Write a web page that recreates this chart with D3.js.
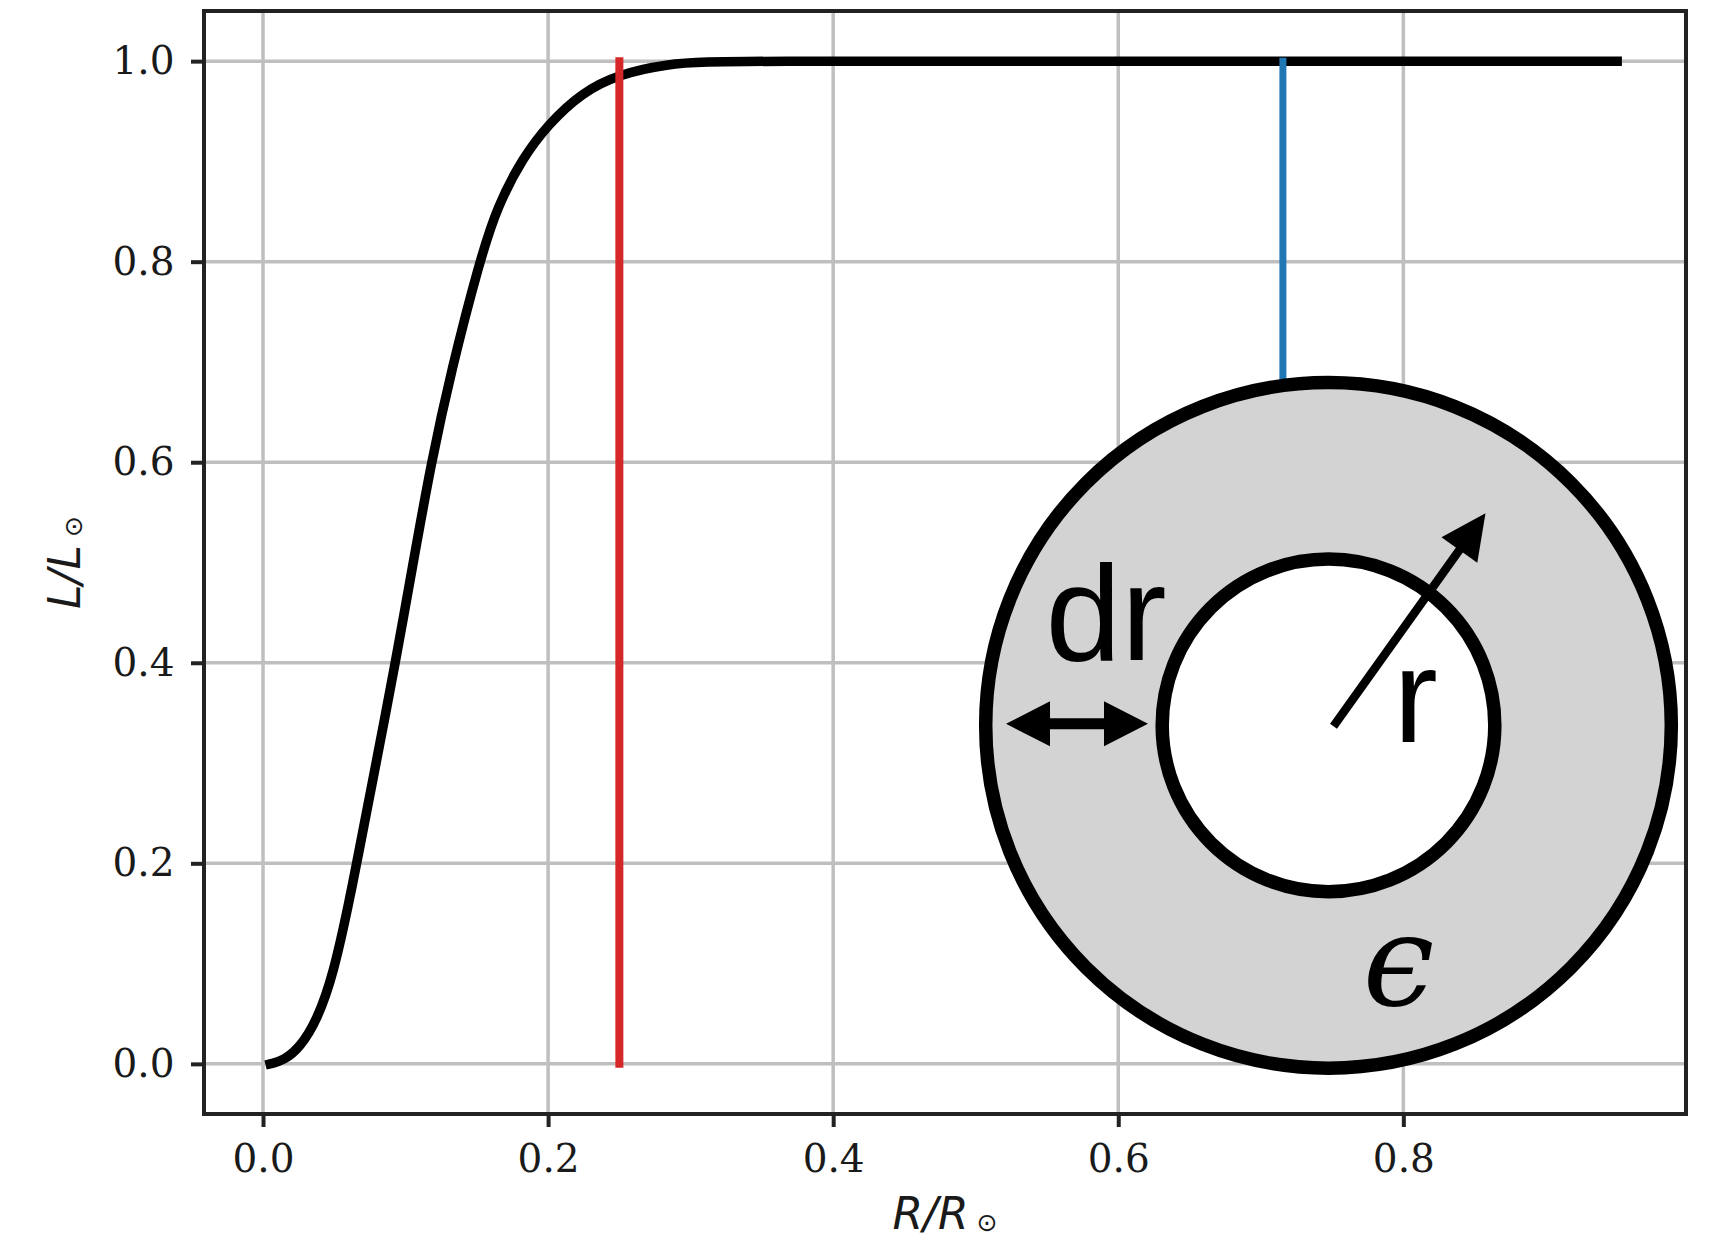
<!DOCTYPE html>
<html>
<head>
<meta charset="utf-8">
<script src="https://cdn.jsdelivr.net/npm/d3@7"></script>
<style>
  html, body { margin: 0; padding: 0; background: #fff; }
  .axis text { font-family: "DejaVu Serif", serif; font-size: 39px; fill: #1a1a1a; }
  .axis path.domain { display: none; }
  .axis line { stroke: #222; stroke-width: 4; }
  .grid line { stroke: #bfbfbf; stroke-width: 3.5; }
  .label { font-family: "DejaVu Sans", sans-serif; font-size: 44px; fill: #1a1a1a; }
</style>
</head>
<body>
<div id="chart"></div>
<script>
// luminosity profile (R/Rsun, L/Lsun)
const radius = [0.005, 0.0144, 0.026, 0.0377, 0.0494, 0.061, 0.0657, 0.0785, 0.0929, 0.1045,
                0.118, 0.132, 0.1518, 0.1646, 0.182, 0.200, 0.224, 0.2496, 0.2845, 0.31,
                0.35, 0.5, 0.7, 0.95];
const luminosity = [0.0, 0.0033, 0.0165, 0.043, 0.089, 0.166, 0.20, 0.294, 0.40, 0.493,
                    0.60, 0.691, 0.80, 0.856, 0.903, 0.937, 0.969, 0.987, 0.9974, 0.9992,
                    1.0, 1.0, 1.0, 1.0];

// vertical markers
const coreEdge = 0.25;
const convectionBase = 0.7155;

const xTicks = [0.0, 0.2, 0.4, 0.6, 0.8];
const yTicks = [0.0, 0.2, 0.4, 0.6, 0.8, 1.0];
const xDomain = [-0.0414, 0.9983];
const yDomain = [-0.05, 1.05];

// shell sketch, centre given in data units
const shellCenter = [0.7475, 0.3376];

const margin = ({top: 11, right: 25, bottom: 126, left: 204});
const width = 1711 - margin.left - margin.right;
const height = 1240 - margin.top - margin.bottom;

const svg = d3.select('#chart')
    .append('svg')
    .attr('width', 1711)
    .attr('height', 1240)
    .append('g')
    .attr('transform', 'translate(' + margin.left + ',' + margin.top + ')');

const xScale = d3.scaleLinear().domain(xDomain).range([0, width]);
const yScale = d3.scaleLinear().domain(yDomain).range([height, 0]);

// grid
svg.append('g')
    .attr('class', 'grid')
    .selectAll('line')
    .data(xTicks)
    .join('line')
    .attr('x1', d => xScale(d)).attr('x2', d => xScale(d))
    .attr('y1', 0).attr('y2', height);

svg.append('g')
    .attr('class', 'grid')
    .selectAll('line')
    .data(yTicks)
    .join('line')
    .attr('y1', d => yScale(d)).attr('y2', d => yScale(d))
    .attr('x1', 0).attr('x2', width);

// profile
const data = radius.map((r, i) => ({r: r, l: luminosity[i]}));

const line = d3.line()
    .x(d => xScale(d.r))
    .y(d => yScale(d.l))
    .curve(d3.curveBasis);

svg.append('path')
    .datum(data)
    .attr('d', line)
    .attr('fill', 'none')
    .attr('stroke', '#000')
    .attr('stroke-width', 9.5)
    .attr('stroke-linecap', 'square');

svg.append('line')
    .attr('x1', xScale(coreEdge)).attr('x2', xScale(coreEdge))
    .attr('y1', yScale(0)).attr('y2', yScale(1))
    .attr('stroke', '#d62728')
    .attr('stroke-width', 8)
    .attr('stroke-linecap', 'square');

svg.append('line')
    .attr('x1', xScale(convectionBase)).attr('x2', xScale(convectionBase))
    .attr('y1', yScale(0)).attr('y2', yScale(1))
    .attr('stroke', '#1f77b4')
    .attr('stroke-width', 7)
    .attr('stroke-linecap', 'square');

// shell sketch
const cx = xScale(shellCenter[0]);
const cy = yScale(shellCenter[1]);
const sketch = svg.append('g').attr('transform', 'translate(' + cx + ',' + cy + ')');

sketch.append('circle')
    .attr('r', 342.8)
    .attr('fill', '#d3d3d3')
    .attr('stroke', '#000')
    .attr('stroke-width', 13.5);

sketch.append('circle')
    .attr('r', 166.3)
    .attr('fill', '#fff')
    .attr('stroke', '#000')
    .attr('stroke-width', 13.5);

// radius arrow
const tail = [5, 1], tip = [157, -212];
const len = Math.hypot(tip[0] - tail[0], tip[1] - tail[1]);
const u = [(tip[0] - tail[0]) / len, (tip[1] - tail[1]) / len];
const n = [-u[1], u[0]];
const headLen = 45, headHalf = 22;
const base = [tip[0] - headLen * u[0], tip[1] - headLen * u[1]];

sketch.append('line')
    .attr('x1', tail[0]).attr('y1', tail[1])
    .attr('x2', base[0] + 4 * u[0]).attr('y2', base[1] + 4 * u[1])
    .attr('stroke', '#000')
    .attr('stroke-width', 8.5);

sketch.append('path')
    .attr('d', 'M' + tip + 'L' + [base[0] + headHalf * n[0], base[1] + headHalf * n[1]] +
               'L' + [base[0] - headHalf * n[0], base[1] - headHalf * n[1]] + 'Z')
    .attr('fill', '#000');

// dr double arrow
const dy = -1.5, left = -322.5, right = -180.5, hl = 44, hh = 22.5;
sketch.append('line')
    .attr('x1', left + hl - 2).attr('x2', right - hl + 2)
    .attr('y1', dy).attr('y2', dy)
    .attr('stroke', '#000')
    .attr('stroke-width', 11);

sketch.append('path')
    .attr('d', 'M' + [left, dy] + 'L' + [left + hl, dy - hh] + 'L' + [left + hl, dy + hh] + 'Z' +
               'M' + [right, dy] + 'L' + [right - hl, dy - hh] + 'L' + [right - hl, dy + hh] + 'Z')
    .attr('fill', '#000');

sketch.append('text')
    .attr('x', -283).attr('y', -65.5)
    .style('font-family', '"Liberation Sans", Arial, sans-serif')
    .style('font-size', '136px')
    .text('dr');

sketch.append('text')
    .attr('x', 65).attr('y', 17)
    .style('font-family', '"Liberation Sans", Arial, sans-serif')
    .style('font-size', '133px')
    .text('r');

sketch.append('text')
    .attr('x', 70).attr('y', 280)
    .attr('text-anchor', 'middle')
    .style('font-family', '"DejaVu Serif", serif')
    .style('font-style', 'italic')
    .style('font-size', '128px')
    .text('\u03f5');

// axes
const xAxis = d3.axisBottom(xScale)
    .tickValues(xTicks)
    .tickFormat(d3.format('.1f'))
    .tickSize(13)
    .tickPadding(17);

const yAxis = d3.axisLeft(yScale)
    .tickValues(yTicks)
    .tickFormat(d3.format('.1f'))
    .tickSize(13)
    .tickPadding(16.5);

svg.append('g')
    .attr('class', 'axis x-axis')
    .attr('transform', 'translate(0,' + height + ')')
    .call(xAxis);

svg.append('g')
    .attr('class', 'axis y-axis')
    .call(yAxis);

// frame
svg.append('rect')
    .attr('width', width)
    .attr('height', height)
    .attr('fill', 'none')
    .attr('stroke', '#222')
    .attr('stroke-width', 4);

// axis labels
const xLabel = svg.append('text')
    .attr('class', 'label')
    .attr('text-anchor', 'middle')
    .attr('x', width / 2)
    .attr('y', 1229 - margin.top);
xLabel.append('tspan').style('font-style', 'oblique').text('R/R');
xLabel.append('tspan').attr('dx', 8).attr('dy', 2).style('font-size', '25px').text('\u2299');

const yLabel = svg.append('text')
    .attr('class', 'label')
    .attr('text-anchor', 'middle')
    .attr('transform', 'translate(' + (80 - margin.left) + ',' + (height / 2) + ') rotate(-90)');
yLabel.append('tspan').style('font-style', 'oblique').text('L/L');
yLabel.append('tspan').attr('dx', 8).attr('dy', 2).style('font-size', '25px').text('\u2299');
</script>
</body>
</html>
